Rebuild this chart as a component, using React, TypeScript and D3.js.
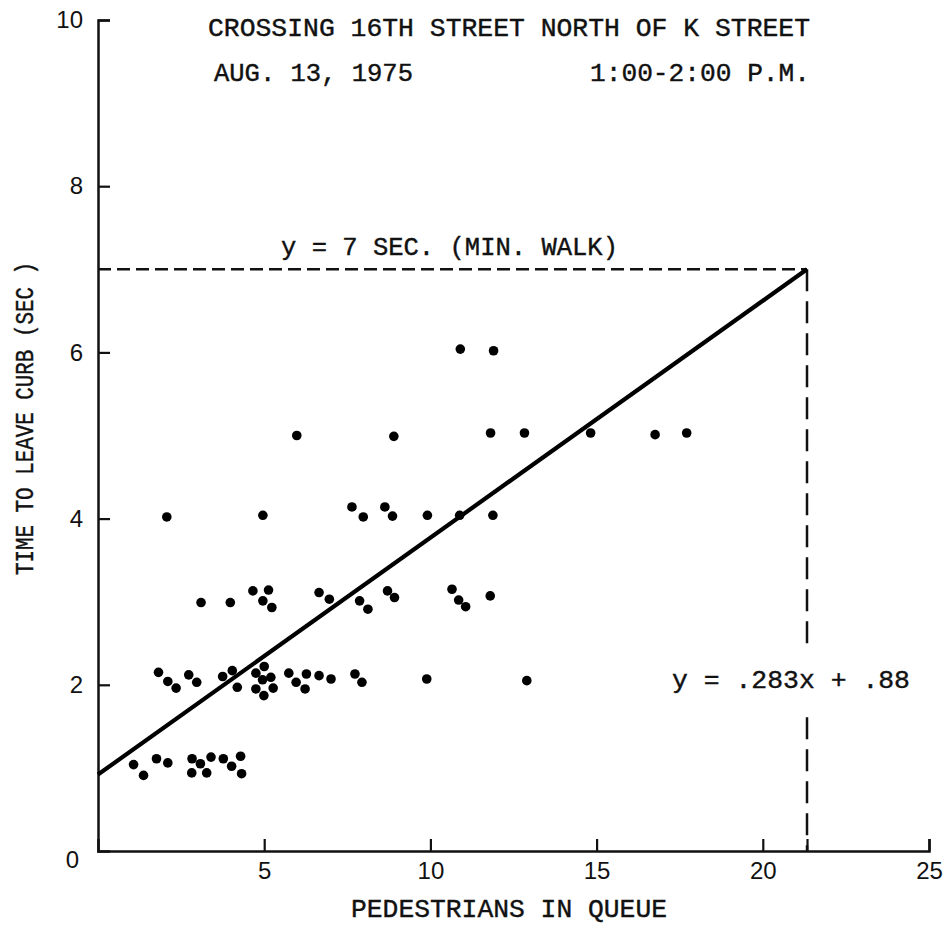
import React, { useEffect, useRef } from "react";
import * as d3 from "d3";

// points, grouped by the row they sit on
const row1 = [
  [1.07, 1.04], [1.37, 0.91], [1.76, 1.11], [2.1, 1.06], [2.83, 1.11], [2.82, 0.94],
  [3.08, 1.05], [3.27, 0.94], [3.4, 1.13], [3.77, 1.11], [4.02, 1.02], [4.29, 1.14], [4.32, 0.93],
];
const row2 = [
  [1.82, 2.15], [2.1, 2.04], [2.35, 1.96], [2.73, 2.12], [2.97, 2.03], [3.75, 2.1],
  [4.04, 2.17], [4.19, 1.97], [4.75, 2.14], [5.0, 2.22], [4.95, 2.06], [5.2, 2.09],
  [4.75, 1.95], [4.99, 1.87], [5.27, 1.96], [5.74, 2.14], [5.96, 2.03], [6.27, 2.13],
  [6.23, 1.95], [6.65, 2.11], [7.01, 2.07], [7.73, 2.13], [7.94, 2.03], [9.89, 2.07], [12.9, 2.05],
];
const row3 = [
  [3.1, 2.99], [3.98, 2.99], [4.66, 3.13], [4.96, 3.01], [5.13, 3.14], [5.23, 2.93],
  [6.65, 3.11], [6.96, 3.03], [7.87, 3.01], [8.12, 2.91], [8.71, 3.13], [8.92, 3.05],
  [10.65, 3.15], [10.85, 3.02], [11.06, 2.94], [11.8, 3.07],
];
const row4 = [
  [2.07, 4.02], [4.96, 4.04], [7.64, 4.14], [7.98, 4.02], [8.63, 4.14], [8.86, 4.03],
  [9.91, 4.04], [10.88, 4.04], [11.88, 4.04],
];
const row5 = [
  [5.98, 5.0], [8.9, 4.99], [11.81, 5.03], [12.83, 5.03], [14.82, 5.03], [16.76, 5.01], [17.71, 5.03],
];
const row6 = [[10.9, 6.04], [11.9, 6.02]];

const fitLine = [[0, 0.92], [21.33, 7.0]];
const minWalk = { x: 21.33, y: 7 };

const xTicks = [5, 10, 15, 20, 25];
const yTicks = [0, 2, 4, 6, 8, 10];

const mono = "'Liberation Mono', 'Courier New', monospace";
const sans = "'Liberation Sans', Arial, sans-serif";

export default function App() {
  const svgRef = useRef<SVGSVGElement>(null);

  useEffect(() => {
    const width = 945;
    const height = 926;
    const svg = d3.select(svgRef.current);
    svg.selectAll("*").remove();
    svg.attr("width", width).attr("height", height);

    const x = d3.scaleLinear().domain([0, 25]).range([98, 929]);
    const y = d3.scaleLinear().domain([0, 10]).range([851, 20]);

    // dashed guide lines
    svg.append("line")
      .attr("x1", x(0)).attr("x2", x(minWalk.x))
      .attr("y1", y(minWalk.y)).attr("y2", y(minWalk.y))
      .attr("stroke", "#111").attr("stroke-width", 2.5)
      .attr("stroke-dasharray", "13 6");
    svg.append("line")
      .attr("x1", x(minWalk.x)).attr("x2", x(minWalk.x))
      .attr("y1", y(minWalk.y)).attr("y2", y(0))
      .attr("stroke", "#111").attr("stroke-width", 2.5)
      .attr("stroke-dasharray", "22 10");

    // axes
    const xAxis = svg.append("g")
      .attr("transform", `translate(0,${y(0)})`)
      .call(d3.axisBottom(x).tickValues([...xTicks, minWalk.x]).tickSize(-12).tickSizeOuter(-12).tickPadding(11)
        .tickFormat((d) => (xTicks.includes(+d) ? String(d) : "")));
    const yAxis = svg.append("g")
      .attr("transform", `translate(${x(0)},0)`)
      .call(d3.axisLeft(y).tickValues(yTicks).tickSize(-12).tickSizeOuter(-12).tickPadding(15));

    [xAxis, yAxis].forEach((g) => {
      g.attr("font-size", 24).attr("font-family", sans);
      g.select(".domain").attr("stroke", "#111").attr("stroke-width", 2.5);
      g.selectAll(".tick line").attr("stroke", "#111").attr("stroke-width", 2.2);
      g.selectAll(".tick text").attr("fill", "#111");
    });
    yAxis.selectAll(".tick line").filter((d) => d === 0).remove();
    yAxis.selectAll(".tick text").filter((d) => d === 0).attr("dy", "0.7em").attr("x", -19);

    // regression line
    svg.append("path")
      .datum(fitLine)
      .attr("d", d3.line().x((d) => x(d[0])).y((d) => y(d[1])))
      .attr("stroke", "#000").attr("stroke-width", 4.2).attr("fill", "none");

    // dots
    const pts = [...row1, ...row2, ...row3, ...row4, ...row5, ...row6];
    svg.append("g")
      .selectAll("circle")
      .data(pts)
      .join("circle")
      .attr("cx", (d) => x(d[0]))
      .attr("cy", (d) => y(d[1]))
      .attr("r", 4.8)
      .attr("fill", "#000");

    // labels
    const txt = (s: string, tx: number, ty: number, len: number, size = 25) =>
      svg.append("text")
        .attr("x", tx).attr("y", ty)
        .attr("textLength", len).attr("lengthAdjust", "spacingAndGlyphs")
        .attr("fill", "#111").attr("stroke", "#111").attr("stroke-width", 0.4)
        .style("font-family", mono).style("font-size", `${size}px`)
        .text(s);

    txt("CROSSING 16TH STREET NORTH OF K STREET", 208, 36, 602);
    txt("AUG. 13, 1975", 214, 81, 199);
    txt("1:00-2:00 P.M.", 590, 81, 220);
    txt("y = 7 SEC. (MIN. WALK)", 281, 255, 337);

    // the equation breaks the vertical dashed line
    svg.append("rect")
      .attr("x", 664).attr("y", 652).attr("width", 256).attr("height", 56)
      .attr("fill", "#fff");
    txt("y = .283x + .88", 672, 688, 238);
    txt("PEDESTRIANS IN QUEUE", 351, 917, 316);

    svg.append("text")
      .attr("transform", `translate(33,575) rotate(-90)`)
      .attr("textLength", 313).attr("lengthAdjust", "spacingAndGlyphs")
      .attr("fill", "#111").attr("stroke", "#111").attr("stroke-width", 0.4)
      .style("font-family", mono).style("font-size", "25px")
      .text("TIME TO LEAVE CURB (SEC )");
  }, []);

  return (
    <svg
      ref={svgRef}
      style={{ position: "absolute", left: 0, top: 0, background: "#fff" }}
    />
  );
}
